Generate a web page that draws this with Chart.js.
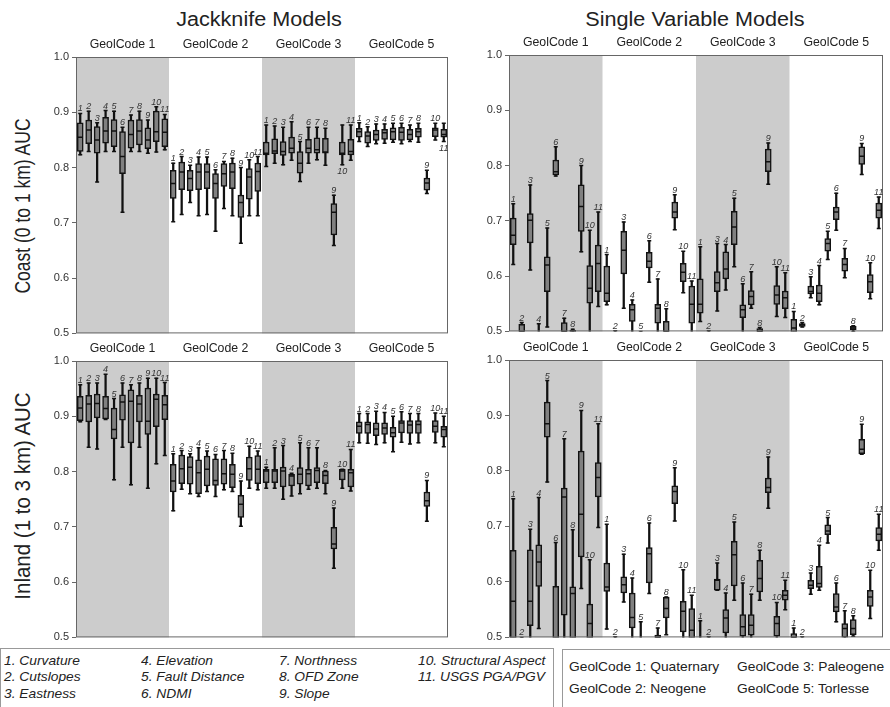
<!DOCTYPE html>
<html>
<head>
<meta charset="utf-8">
<script src="https://cdn.jsdelivr.net/npm/chart.js"></script>
<style>
  body { margin: 0; width: 890px; height: 707px; position: relative; overflow: hidden; background: #fff;
         font-family: "Liberation Sans", Arial, sans-serif; color: #222; }
  canvas { position: absolute; }
  .title { position: absolute; top: 9px; font-size: 20px; line-height: 20px; white-space: nowrap;
           transform: translateX(-50%) scaleX(1.08); }
  .ytitle { position: absolute; line-height: 1; white-space: nowrap; }
  .box { position: absolute; border: 1px solid #999; box-sizing: border-box; }
  .item { position: absolute; font-size: 13px; line-height: 16px; white-space: nowrap;
          transform: scaleX(1.06); transform-origin: left center; }
  .item.model { font-style: italic; }
</style>
</head>
<body>
<div class="title" style="left:259px">Jackknife Models</div>
<div class="title" style="left:695px">Single Variable Models</div>
<div class="ytitle" style="left:23px; top:206px; font-size:17.5px;
     transform: translate(-50%, -50%) rotate(-90deg) scaleY(1.25)">Coast (0 to 1 km) AUC</div>
<div class="ytitle" style="left:22.5px; top:496px; font-size:20.5px;
     transform: translate(-50%, -50%) rotate(-90deg) scaleY(1.1)">Inland (1 to 3 km) AUC</div>

<canvas id="jackCoast"></canvas>
<canvas id="singleCoast"></canvas>
<canvas id="jackInland"></canvas>
<canvas id="singleInland"></canvas>

<div class="box" style="left:0px; top:648px; width:554px; height:70px"></div>
<div class="box" style="left:562px; top:649px; width:340px; height:70px"></div>
<div id="legend"></div>

<script>
const geolCodes = ['GeolCode 1', 'GeolCode 2', 'GeolCode 3', 'GeolCode 5'];
const geolNames = ['Quaternary', 'Neogene', 'Paleogene', 'Torlesse'];
const models = ['Curvature', 'Cutslopes', 'Eastness', 'Elevation', 'Fault Distance', 'NDMI',
                'Northness', 'OFD Zone', 'Slope', 'Structural Aspect', 'USGS PGA/PGV'];
const yTicks = [0.5, 0.6, 0.7, 0.8, 0.9, 1.0];

// each row: [whisker low, Q1, median, Q3, whisker high], 11 models per GeolCode
const jackCoastAuc = [
  // GeolCode 1
  [0.823, 0.829, 0.855, 0.881, 0.898], [0.829, 0.843, 0.868, 0.886, 0.902], [0.774, 0.826, 0.850, 0.874, 0.881],
  [0.829, 0.844, 0.866, 0.891, 0.903], [0.829, 0.838, 0.866, 0.887, 0.902], [0.719, 0.789, 0.820, 0.865, 0.873],
  [0.829, 0.835, 0.860, 0.886, 0.895], [0.829, 0.841, 0.866, 0.887, 0.902], [0.826, 0.834, 0.850, 0.872, 0.886],
  [0.828, 0.847, 0.865, 0.902, 0.910], [0.832, 0.838, 0.864, 0.888, 0.896],
  // GeolCode 2
  [0.702, 0.744, 0.771, 0.795, 0.808], [0.715, 0.760, 0.792, 0.810, 0.820], [0.737, 0.758, 0.780, 0.795, 0.804],
  [0.713, 0.760, 0.792, 0.807, 0.819], [0.715, 0.762, 0.792, 0.807, 0.819], [0.685, 0.744, 0.771, 0.789, 0.796],
  [0.726, 0.766, 0.789, 0.807, 0.811], [0.713, 0.762, 0.792, 0.808, 0.817], [0.663, 0.710, 0.737, 0.750, 0.800],
  [0.713, 0.743, 0.783, 0.798, 0.814], [0.713, 0.757, 0.793, 0.808, 0.820],
  // GeolCode 3
  [0.802, 0.823, 0.826, 0.846, 0.877], [0.808, 0.825, 0.830, 0.852, 0.875], [0.805, 0.822, 0.829, 0.847, 0.873],
  [0.813, 0.826, 0.835, 0.855, 0.883], [0.775, 0.790, 0.808, 0.829, 0.847], [0.808, 0.826, 0.835, 0.851, 0.873],
  [0.814, 0.826, 0.832, 0.854, 0.873], [0.804, 0.826, 0.828, 0.853, 0.871], [0.659, 0.678, 0.719, 0.735, 0.750],
  [0.805, 0.823, 0.826, 0.846, 0.877], [0.813, 0.823, 0.829, 0.851, 0.877],
  // GeolCode 5
  [0.847, 0.855, 0.865, 0.871, 0.881], [0.838, 0.844, 0.857, 0.865, 0.874], [0.843, 0.849, 0.860, 0.868, 0.879],
  [0.844, 0.851, 0.863, 0.869, 0.879], [0.846, 0.850, 0.865, 0.872, 0.880], [0.843, 0.849, 0.864, 0.873, 0.880],
  [0.847, 0.850, 0.860, 0.869, 0.877], [0.846, 0.855, 0.865, 0.871, 0.880], [0.753, 0.759, 0.772, 0.781, 0.795],
  [0.850, 0.856, 0.868, 0.872, 0.880], [0.847, 0.855, 0.860, 0.869, 0.880]
];

const singleCoastAuc = [
  // GeolCode 1
  [0.621, 0.657, 0.674, 0.705, 0.731], [0.470, 0.485, 0.500, 0.513, 0.516], [0.611, 0.660, 0.701, 0.713, 0.765],
  [0.440, 0.460, 0.475, 0.490, 0.514], [0.508, 0.572, 0.620, 0.635, 0.687], [0.781, 0.783, 0.789, 0.810, 0.834],
  [0.470, 0.485, 0.500, 0.516, 0.524], [0.470, 0.480, 0.490, 0.502, 0.504], [0.644, 0.681, 0.726, 0.765, 0.800],
  [0.450, 0.551, 0.578, 0.619, 0.683], [0.545, 0.572, 0.623, 0.656, 0.716],
  // GeolCode 2
  [0.548, 0.554, 0.569, 0.618, 0.639], [0.440, 0.460, 0.475, 0.490, 0.501], [0.542, 0.604, 0.647, 0.681, 0.698],
  [0.460, 0.518, 0.539, 0.549, 0.557], [0.430, 0.450, 0.470, 0.485, 0.500], [0.589, 0.615, 0.627, 0.643, 0.664],
  [0.460, 0.515, 0.542, 0.549, 0.595], [0.460, 0.480, 0.500, 0.518, 0.541], [0.684, 0.705, 0.716, 0.734, 0.747],
  [0.570, 0.590, 0.607, 0.623, 0.645], [0.470, 0.515, 0.549, 0.582, 0.591],
  // GeolCode 3
  [0.518, 0.533, 0.549, 0.595, 0.653], [0.440, 0.460, 0.475, 0.490, 0.501], [0.537, 0.572, 0.588, 0.608, 0.659],
  [0.575, 0.595, 0.613, 0.644, 0.657], [0.617, 0.657, 0.689, 0.717, 0.741], [0.460, 0.525, 0.539, 0.548, 0.586],
  [0.542, 0.548, 0.563, 0.574, 0.608], [0.470, 0.490, 0.500, 0.505, 0.507], [0.766, 0.789, 0.807, 0.830, 0.841],
  [0.527, 0.549, 0.566, 0.583, 0.617], [0.525, 0.541, 0.561, 0.573, 0.606],
  // GeolCode 5
  [0.460, 0.480, 0.506, 0.522, 0.536], [0.508, 0.509, 0.512, 0.514, 0.516], [0.561, 0.568, 0.572, 0.582, 0.599],
  [0.548, 0.554, 0.569, 0.584, 0.619], [0.630, 0.645, 0.659, 0.668, 0.681], [0.683, 0.702, 0.716, 0.725, 0.750],
  [0.597, 0.609, 0.621, 0.632, 0.650], [0.500, 0.503, 0.506, 0.509, 0.510], [0.784, 0.802, 0.817, 0.834, 0.840],
  [0.559, 0.570, 0.590, 0.603, 0.624], [0.686, 0.705, 0.719, 0.732, 0.743]
];

const jackInlandAuc = [
  // GeolCode 1
  [0.890, 0.892, 0.915, 0.936, 0.957], [0.844, 0.890, 0.922, 0.938, 0.960], [0.841, 0.897, 0.923, 0.940, 0.960],
  [0.894, 0.895, 0.914, 0.936, 0.976], [0.785, 0.859, 0.876, 0.915, 0.932], [0.844, 0.893, 0.926, 0.939, 0.960],
  [0.776, 0.852, 0.927, 0.948, 0.957], [0.844, 0.890, 0.922, 0.938, 0.960], [0.770, 0.867, 0.891, 0.951, 0.969],
  [0.814, 0.881, 0.931, 0.940, 0.969], [0.829, 0.894, 0.921, 0.938, 0.961],
  // GeolCode 2
  [0.729, 0.763, 0.783, 0.813, 0.832], [0.768, 0.778, 0.805, 0.830, 0.838], [0.760, 0.777, 0.808, 0.827, 0.832],
  [0.755, 0.760, 0.798, 0.821, 0.843], [0.764, 0.774, 0.804, 0.828, 0.837], [0.755, 0.775, 0.784, 0.823, 0.831],
  [0.767, 0.777, 0.796, 0.823, 0.838], [0.764, 0.771, 0.795, 0.813, 0.833], [0.701, 0.717, 0.741, 0.757, 0.783],
  [0.770, 0.784, 0.805, 0.826, 0.846], [0.767, 0.778, 0.804, 0.829, 0.837],
  // GeolCode 3
  [0.770, 0.780, 0.801, 0.804, 0.808], [0.770, 0.780, 0.801, 0.804, 0.843], [0.750, 0.772, 0.801, 0.808, 0.847],
  [0.756, 0.774, 0.792, 0.795, 0.797], [0.760, 0.777, 0.795, 0.807, 0.852], [0.768, 0.774, 0.796, 0.804, 0.843],
  [0.770, 0.780, 0.802, 0.807, 0.843], [0.760, 0.778, 0.793, 0.801, 0.802], [0.625, 0.660, 0.669, 0.699, 0.734],
  [0.770, 0.785, 0.801, 0.804, 0.804], [0.765, 0.772, 0.798, 0.804, 0.840],
  // GeolCode 5
  [0.852, 0.869, 0.882, 0.890, 0.905], [0.851, 0.869, 0.885, 0.890, 0.905], [0.849, 0.865, 0.877, 0.888, 0.909],
  [0.852, 0.867, 0.879, 0.888, 0.907], [0.836, 0.862, 0.870, 0.880, 0.900], [0.853, 0.870, 0.888, 0.892, 0.908],
  [0.850, 0.869, 0.884, 0.892, 0.905], [0.852, 0.869, 0.885, 0.892, 0.905], [0.710, 0.737, 0.747, 0.763, 0.784],
  [0.852, 0.871, 0.882, 0.892, 0.906], [0.845, 0.862, 0.876, 0.882, 0.900]
];

const singleInlandAuc = [
  // GeolCode 1
  [0.420, 0.460, 0.565, 0.657, 0.750], [0.430, 0.450, 0.470, 0.485, 0.500], [0.450, 0.521, 0.565, 0.658, 0.695],
  [0.516, 0.592, 0.636, 0.667, 0.752], [0.780, 0.861, 0.885, 0.924, 0.963], [0.400, 0.440, 0.480, 0.592, 0.671],
  [0.450, 0.540, 0.753, 0.769, 0.858], [0.440, 0.470, 0.579, 0.591, 0.694], [0.588, 0.645, 0.722, 0.836, 0.909],
  [0.440, 0.470, 0.525, 0.560, 0.640], [0.698, 0.753, 0.788, 0.815, 0.885],
  // GeolCode 2
  [0.515, 0.583, 0.591, 0.634, 0.704], [0.430, 0.450, 0.470, 0.485, 0.501], [0.564, 0.580, 0.595, 0.609, 0.650],
  [0.460, 0.517, 0.536, 0.580, 0.607], [0.440, 0.460, 0.475, 0.490, 0.528], [0.579, 0.598, 0.651, 0.662, 0.706],
  [0.460, 0.480, 0.500, 0.504, 0.517], [0.505, 0.535, 0.552, 0.572, 0.573], [0.710, 0.741, 0.763, 0.773, 0.806],
  [0.460, 0.510, 0.547, 0.565, 0.622], [0.460, 0.480, 0.513, 0.552, 0.576],
  // GeolCode 3
  [0.440, 0.460, 0.475, 0.490, 0.530], [0.430, 0.450, 0.470, 0.485, 0.501], [0.585, 0.585, 0.603, 0.605, 0.634],
  [0.470, 0.508, 0.535, 0.550, 0.580], [0.567, 0.593, 0.649, 0.673, 0.708], [0.460, 0.502, 0.519, 0.541, 0.598],
  [0.460, 0.504, 0.522, 0.541, 0.578], [0.567, 0.582, 0.606, 0.639, 0.657], [0.733, 0.761, 0.770, 0.787, 0.825],
  [0.460, 0.502, 0.525, 0.538, 0.563], [0.550, 0.567, 0.576, 0.585, 0.603],
  // GeolCode 5
  [0.460, 0.480, 0.500, 0.507, 0.517], [0.430, 0.450, 0.470, 0.485, 0.501], [0.578, 0.588, 0.594, 0.603, 0.616],
  [0.585, 0.590, 0.597, 0.628, 0.666], [0.670, 0.685, 0.692, 0.703, 0.716], [0.528, 0.546, 0.555, 0.579, 0.598],
  [0.470, 0.500, 0.516, 0.525, 0.548], [0.502, 0.505, 0.516, 0.532, 0.539], [0.830, 0.831, 0.839, 0.857, 0.884],
  [0.534, 0.556, 0.573, 0.585, 0.621], [0.657, 0.674, 0.686, 0.698, 0.722]
];

// number labels that sit under the whisker instead of above it
const labelsBelow = { jackCoast: [31, 43], singleCoast: [], jackInland: [], singleInland: [] };

const AXIS_W = 40;
const PAD = { top: 26, right: 6, bottom: 8, left: 0 };
const FONT = '"Liberation Sans", Arial, sans-serif';

// shaded GeolCode bands, group names, box numbers and the frame
const panelDecor = {
  id: 'panelDecor',
  beforeDatasetsDraw(chart) {
    const { ctx, chartArea: a, scales: { x } } = chart;
    const slot = (a.right - a.left) / 44;
    ctx.save();
    ctx.fillStyle = '#cccccc';
    [0, 2].forEach(g => {
      const x0 = x.getPixelForValue(g * 11) - slot / 2;
      ctx.fillRect(x0, a.top, slot * 11, a.bottom - a.top);
    });
    ctx.restore();
  },
  afterDatasetsDraw(chart, args, opts) {
    const { ctx, chartArea: a, scales: { x, y } } = chart;
    ctx.save();
    ctx.strokeStyle = '#666';
    ctx.lineWidth = 1;
    ctx.strokeRect(a.left + 0.5, a.top + 0.5, a.right - a.left - 1, a.bottom - a.top - 1);

    ctx.fillStyle = '#222';
    ctx.font = '12.3px ' + FONT;
    ctx.textAlign = 'center';
    ctx.textBaseline = 'middle';
    geolCodes.forEach((g, gi) => {
      const cx = (x.getPixelForValue(gi * 11) + x.getPixelForValue(gi * 11 + 10)) / 2;
      ctx.fillText(g, cx, a.top - 12);
    });

    ctx.fillStyle = '#333';
    ctx.font = 'italic 9px ' + FONT;
    ctx.textBaseline = 'alphabetic';
    opts.boxes.forEach((b, i) => {
      const px = x.getPixelForValue(i);
      const n = String(i % 11 + 1);
      if (opts.below.includes(i)) {
        ctx.fillText(n, px, y.getPixelForValue(b[0]) + 9);
      } else {
        ctx.fillText(n, px, y.getPixelForValue(Math.max(b[4], 0.5)) - 2);
      }
    });
    ctx.restore();
  }
};

function drawPanel(id, area, boxes) {
  const canvas = document.getElementById(id);
  canvas.width = area.w + AXIS_W + PAD.right;
  canvas.height = area.h + PAD.top + PAD.bottom;
  canvas.style.left = (area.x - AXIS_W) + 'px';
  canvas.style.top = (area.y - PAD.top) + 'px';

  const labels = geolCodes.flatMap(g => models.map((m, i) => g + ' ' + (i + 1)));
  const pointSet = (k, r, order) => ({
    type: 'line', data: boxes.map(b => b[k]), showLine: false,
    pointStyle: 'line', pointRadius: r, pointBorderWidth: 1.5, pointBorderColor: '#111',
    order: order, clip: 0
  });

  return new Chart(canvas, {
    type: 'bar',
    data: {
      labels: labels,
      datasets: [
        { data: boxes.map(b => [b[0], b[4]]), backgroundColor: '#111', barThickness: 1.6,
          grouped: false, order: 5, clip: 0 },
        { data: boxes.map(b => [b[1], b[3]]), backgroundColor: '#808080', borderColor: '#111',
          borderWidth: 1.5, borderSkipped: false, barThickness: 6, grouped: false, order: 4, clip: 0 },
        pointSet(0, 2, 3),
        pointSet(4, 2, 2),
        pointSet(2, 2.5, 1)
      ]
    },
    options: {
      responsive: false,
      animation: false,
      events: [],
      layout: { padding: PAD },
      plugins: {
        legend: { display: false },
        tooltip: { enabled: false },
        panelDecor: { boxes: boxes, below: labelsBelow[id] }
      },
      scales: {
        x: { display: false },
        y: {
          min: yTicks[0], max: yTicks[yTicks.length - 1],
          afterBuildTicks: s => { s.ticks = yTicks.map(v => ({ value: v })); },
          afterFit: s => { s.width = AXIS_W; },
          ticks: { padding: 3, color: '#333', font: { size: 11, family: FONT },
                   callback: v => Number(v).toFixed(1) },
          grid: { display: true, drawOnChartArea: false, drawTicks: true, tickLength: 4, color: '#666' },
          border: { display: false }
        }
      }
    },
    plugins: [panelDecor]
  });
}

drawPanel('jackCoast',    { x: 76,  y: 57,  w: 372, h: 278 }, jackCoastAuc);
drawPanel('singleCoast',  { x: 509, y: 55,  w: 374, h: 278 }, singleCoastAuc);
drawPanel('jackInland',   { x: 76,  y: 361, w: 372, h: 278 }, jackInlandAuc);
drawPanel('singleInland', { x: 509, y: 360, w: 374, h: 279 }, singleInlandAuc);

// model and GeolCode keys along the bottom
const legend = document.getElementById('legend');
const modelCols = [4, 141, 279, 418], modelRows = [661, 677, 694];
models.forEach((m, i) => {
  const el = document.createElement('div');
  el.className = 'item model';
  el.textContent = (i + 1) + '. ' + m;
  el.style.left = modelCols[Math.floor(i / 3)] + 'px';
  el.style.top = (modelRows[i % 3] - 8) + 'px';
  legend.appendChild(el);
});
const geolCols = [569, 737], geolRows = [667, 689];
geolCodes.forEach((g, i) => {
  const el = document.createElement('div');
  el.className = 'item';
  el.textContent = g + ': ' + geolNames[i];
  el.style.left = geolCols[Math.floor(i / 2)] + 'px';
  el.style.top = (geolRows[i % 2] - 8) + 'px';
  legend.appendChild(el);
});
</script>
</body>
</html>
